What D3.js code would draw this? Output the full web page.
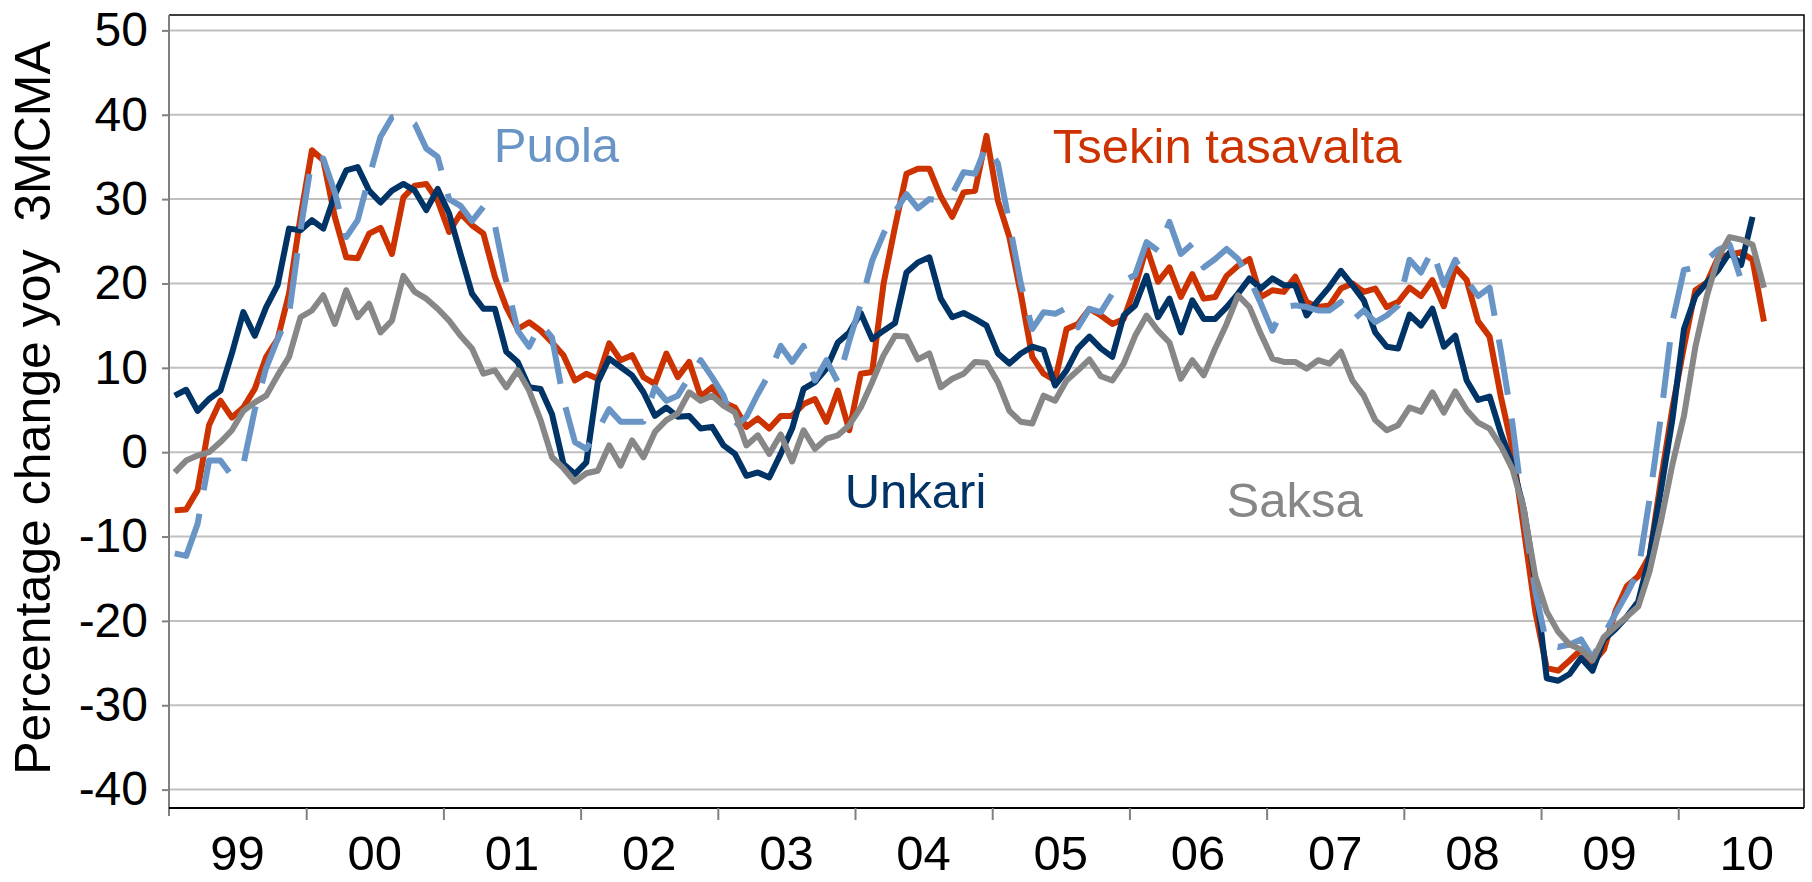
<!DOCTYPE html>
<html>
<head>
<meta charset="utf-8">
<title>Percentage change yoy 3MCMA</title>
<script src="https://cdn.jsdelivr.net/npm/d3@7"></script>
<style>
    html, body { margin: 0; padding: 0; background: #fff; }
    svg text { font-family: "Liberation Sans", Arial, sans-serif; }
</style>
</head>
<body>
<svg id="chart" width="1812" height="882"></svg>
<script>
// ---------- data (monthly, Jan 1999 onwards, % change yoy, 3MCMA)
var yearLabels = ["99", "00", "01", "02", "03", "04", "05", "06", "07", "08", "09", "10"];
var yTicks = [-40, -30, -20, -10, 0, 10, 20, 30, 40, 50];

var unkari = [6.7, 7.4, 4.9, 6.3, 7.3, 11.7, 16.6, 13.8, 17.2, 19.8, 26.5, 26.3,
    27.5, 26.5, 30.5, 33.4, 33.8, 31.0, 29.6, 31.0, 31.8, 31.0, 28.7, 31.2,
    28.3, 23.5, 18.8, 17.0, 17.0, 11.9, 10.7, 7.7, 7.5, 4.5, -1.4, -2.6,
    -1.2, 8.3, 11.1, 10.1, 9.1, 7.1, 4.3, 5.3, 4.2, 4.3, 2.8, 3.0,
    0.8, -0.2, -2.8, -2.4, -3.0, -0.2, 2.8, 7.5, 8.3, 9.9, 13.0, 14.2,
    16.5, 13.4, 14.4, 15.3, 21.3, 22.5, 23.1, 18.2, 16.0, 16.5, 15.8, 15.0,
    11.7, 10.5, 11.7, 12.5, 12.1, 7.9, 9.7, 12.3, 13.7, 12.3, 11.3, 16.2,
    17.4, 20.9, 16.0, 18.2, 14.2, 18.0, 15.8, 15.8, 17.2, 18.8, 20.6, 19.4,
    20.6, 19.8, 19.8, 16.2, 18.0, 19.6, 21.5, 19.8, 18.0, 14.2, 12.5, 12.3,
    16.3, 15.0, 17.0, 12.5, 13.8, 8.5, 6.2, 6.6, 2.2, -1.4, -6.8, -15.3,
    -26.8, -27.1, -26.3, -24.4, -25.9, -22.2, -21.0, -19.5, -17.7, -12.3, -4.4, 4.0,
    14.6, 18.5, 20.1, 21.6, 23.7, 22.2, 27.9];

var tsekki = [-6.9, -6.8, -4.5, 3.2, 6.1, 4.1, 5.3, 7.5, 11.3, 13.4, 18.8, 27.9,
    35.8, 34.6, 27.9, 23.1, 23.0, 25.9, 26.6, 23.5, 30.2, 31.6, 31.8, 29.8,
    26.1, 28.3, 26.9, 25.9, 20.8, 17.2, 14.6, 15.4, 14.4, 13.0, 11.5, 8.5,
    9.3, 8.7, 12.9, 10.9, 11.5, 8.9, 8.1, 11.7, 8.9, 10.7, 6.6, 7.7,
    5.9, 5.3, 3.0, 4.0, 2.8, 4.3, 4.3, 5.7, 6.3, 3.6, 7.3, 2.6,
    9.3, 9.5, 20.0, 26.7, 33.0, 33.6, 33.6, 30.3, 27.9, 30.8, 31.0, 37.5,
    29.8, 25.5, 18.8, 11.3, 9.3, 8.5, 14.6, 15.2, 17.0, 16.2, 15.2, 15.8,
    19.6, 24.3, 20.2, 21.9, 18.4, 21.1, 18.2, 18.4, 20.9, 22.1, 22.9, 18.4,
    19.2, 19.0, 20.8, 17.8, 17.2, 17.4, 19.4, 20.0, 19.0, 19.4, 17.2, 17.8,
    19.5, 18.5, 20.4, 17.3, 21.9, 20.4, 15.5, 13.7, 6.5, 0.4, -9.2, -18.9,
    -25.6, -25.9, -24.7, -23.4, -25.0, -23.4, -18.9, -15.9, -14.7, -12.3, -3.2, 5.3,
    12.5, 19.2, 20.1, 23.1, 23.4, 23.7, 22.8, 15.5];

var puola = [-12.0, -12.3, -8.5, -1.0, -1.0, -2.8, -1.5, 5.0, 10.0, 13.4, 16.4, 26.3,
    34.8, 34.8, 30.8, 25.5, 27.5, 32.6, 37.4, 39.7, 40.0, 38.9, 36.0, 35.0,
    30.0, 29.2, 27.4, 29.1, 26.9, 20.2, 14.4, 12.5, 15.2, 13.6, 6.2, 1.2,
    0.4, 2.6, 5.1, 3.6, 3.6, 3.6, 7.7, 6.1, 6.7, 8.9, 10.9, 8.9,
    6.7, 3.0, 4.2, 6.9, 9.3, 12.6, 10.7, 12.6, 8.5, 10.9, 8.3, 13.2,
    17.6, 22.7, 25.9, 28.5, 30.6, 28.9, 30.0, 29.8, 30.6, 33.2, 33.0, 36.4,
    34.2, 27.1, 20.0, 14.6, 16.6, 16.4, 17.1, 14.8, 17.0, 16.6, 18.8, 20.3,
    21.0, 24.9, 23.9, 27.3, 23.5, 24.7, 21.9, 22.9, 24.1, 22.9, 20.6, 17.6,
    14.4, 17.2, 17.4, 17.2, 16.8, 16.8, 17.8, 15.6, 16.8, 15.4, 16.2, 17.4,
    22.8, 21.3, 24.0, 19.8, 22.8, 20.4, 18.5, 19.5, 11.9, 3.4, -7.4, -16.5,
    -22.8, -23.1, -22.8, -22.2, -24.4, -21.6, -19.2, -16.8, -14.1, -5.5, 4.4, 15.5,
    21.6, 21.9, 22.8, 24.0, 24.6, 20.4, 21.3];

var saksa = [-2.4, -1.0, -0.4, 0.0, 1.2, 2.6, 4.9, 5.9, 6.7, 9.1, 11.3, 16.0,
    16.8, 18.6, 15.2, 19.2, 16.0, 17.6, 14.2, 15.6, 20.9, 19.0, 18.2, 17.0,
    15.6, 13.8, 12.3, 9.3, 9.7, 7.7, 9.7, 7.3, 3.8, -0.6, -1.9, -3.5,
    -2.5, -2.2, 0.8, -1.6, 1.4, -0.6, 2.4, 3.8, 4.6, 7.1, 6.1, 6.7,
    5.5, 4.7, 0.8, 2.0, -0.2, 2.1, -1.1, 2.6, 0.4, 1.6, 2.0, 3.2,
    5.3, 8.3, 11.5, 13.8, 13.7, 11.0, 11.7, 7.7, 8.7, 9.3, 10.7, 10.6,
    8.3, 4.9, 3.6, 3.4, 6.7, 6.1, 8.5, 9.7, 11.0, 9.0, 8.5, 10.5,
    13.8, 16.2, 14.4, 13.0, 8.7, 10.9, 9.1, 12.3, 15.2, 18.6, 17.2, 14.0,
    11.1, 10.7, 10.7, 9.9, 10.9, 10.5, 11.9, 8.5, 6.7, 3.8, 2.6, 3.2,
    5.3, 4.8, 7.1, 4.7, 7.2, 5.0, 3.5, 2.8, 0.7, -2.0, -6.8, -14.7,
    -18.9, -21.3, -22.8, -23.4, -24.7, -21.9, -20.7, -19.5, -18.3, -14.1, -8.1, -1.4,
    4.3, 12.5, 18.5, 23.1, 25.5, 25.2, 24.6, 19.5];

var monthSlots = 143;   // category slots on the x axis (Jan 1999 .. Nov 2010)

// ---------- layout
var svg = d3.select("#chart");
var plotLeft = 169, plotRight = 1804, plotTop = 15, plotBottom = 808;

var x = d3.scaleLinear().domain([0, monthSlots]).range([plotLeft, plotRight]);
var y = d3.scaleLinear().domain([-40, 50]).range([789.6, 30.4]);

// gridlines
svg.append("g")
    .selectAll("line")
    .data(yTicks)
    .enter().append("line")
    .attr("x1", plotLeft).attr("x2", plotRight)
    .attr("y1", d => y(d)).attr("y2", d => y(d))
    .attr("stroke", "#c0c0c0")
    .attr("stroke-width", 2);

// plot frame (top and right)
svg.append("path")
    .attr("d", "M" + plotLeft + "," + plotTop + "H" + plotRight + "V" + plotBottom)
    .attr("fill", "none")
    .attr("stroke", "#000")
    .attr("stroke-width", 1.5);

// y axis
var yAxis = svg.append("g")
    .attr("transform", "translate(" + plotLeft + ",0)")
    .call(d3.axisLeft(y).tickValues(yTicks).tickSize(7).tickPadding(14).tickFormat(d => String(d)));
yAxis.select(".domain")
    .attr("d", "M0," + plotTop + "V" + (plotBottom + 8))
    .attr("stroke", "#808080").attr("stroke-width", 2);
yAxis.selectAll(".tick line").attr("stroke", "#808080").attr("stroke-width", 2);
yAxis.selectAll(".tick text")
    .attr("font-size", 48)
    .attr("fill", "#000")
    .style("font-family", "'Liberation Sans', Arial, sans-serif");

// x axis: ticks between years, labels centred on each year
var yearStarts = yearLabels.map((d, i) => i * 12);
var xAxis = svg.append("g")
    .attr("transform", "translate(0," + plotBottom + ")")
    .call(d3.axisBottom(x).tickValues(yearStarts.slice(1)).tickSize(12).tickFormat(""));
xAxis.select(".domain")
    .attr("d", "M" + plotLeft + ",0H" + plotRight)
    .attr("stroke", "#000").attr("stroke-width", 2);
xAxis.selectAll(".tick line").attr("stroke", "#808080").attr("stroke-width", 2);

svg.append("g")
    .selectAll("text")
    .data(yearLabels)
    .enter().append("text")
    .attr("x", (d, i) => x(i * 12 + 6))
    .attr("y", 870)
    .attr("text-anchor", "middle")
    .attr("font-size", 49)
    .attr("fill", "#000")
    .text(d => d);

// axis title
svg.append("text")
    .attr("transform", "translate(50,408) rotate(-90)")
    .attr("text-anchor", "middle")
    .attr("font-size", 50)
    .attr("fill", "#000")
    .attr("xml:space", "preserve")
    .style("white-space", "pre")
    .text("Percentage change yoy  3MCMA");

// ---------- series
var line = d3.line()
    .x((d, i) => x(i + 0.5))
    .y(d => y(d));

var series = [
    { name: "Tsekin tasavalta", values: tsekki, color: "#cc3300", dash: null },
    { name: "Unkari", values: unkari, color: "#003366", dash: null },
    { name: "Puola", values: puola, color: "#6894c6", dash: "56,24" },
    { name: "Saksa", values: saksa, color: "#878787", dash: null }
];

svg.append("g")
    .selectAll("path")
    .data(series)
    .enter().append("path")
    .attr("d", d => line(d.values))
    .attr("fill", "none")
    .attr("stroke", d => d.color)
    .attr("stroke-width", 6)
    .attr("stroke-linejoin", "round")
    .attr("stroke-dasharray", d => d.dash);

// series labels placed in data coordinates
var labels = [
    { text: "Puola", color: "#6894c6", i: 28.4, v: 34.4 },
    { text: "Tsekin tasavalta", color: "#cc3300", i: 77.3, v: 34.3 },
    { text: "Unkari", color: "#003366", i: 59.1, v: -6.6 },
    { text: "Saksa", color: "#878787", i: 92.5, v: -7.7 }
];

svg.append("g")
    .selectAll("text")
    .data(labels)
    .enter().append("text")
    .attr("x", d => x(d.i))
    .attr("y", d => y(d.v))
    .attr("font-size", 49)
    .attr("fill", d => d.color)
    .text(d => d.text);
</script>
</body>
</html>
